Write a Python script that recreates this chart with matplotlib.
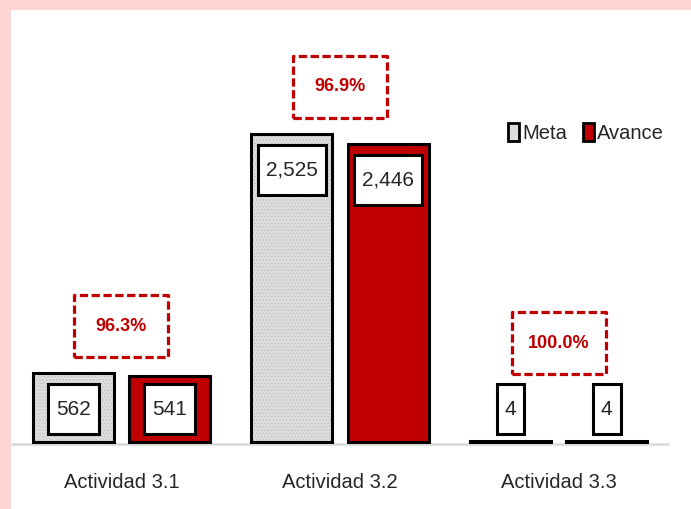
import matplotlib
matplotlib.use('Agg')
import matplotlib.pyplot as plt
from matplotlib.patches import Rectangle, Patch
import numpy as np

categories = ['Actividad 3.1', 'Actividad 3.2', 'Actividad 3.3']
meta = [562, 2525, 4]
avance = [541, 2446, 4]
series_names = ['Meta', 'Avance']

# y positions (data units) of the percentage boxes
pct_y = [950, 2915, 810]

plt.rcParams['font.family'] = ['Liberation Sans', 'DejaVu Sans']
plt.rcParams['hatch.linewidth'] = 0.8

W, H = 691, 509
fig = plt.figure(figsize=(W / 100, H / 100), dpi=100)
fig.patch.set_facecolor('#FFD6D6')
fig.add_artist(Rectangle((11 / W, 0), 1 - 11 / W, 1 - 10 / H, transform=fig.transFigure,
                         facecolor='white', edgecolor='none', zorder=0))

ax = fig.add_axes([12 / W, 65 / H, 656 / W, 434 / H])
ax.set_facecolor('none')
ax.set_xlim(-0.5, 2.5)
ax.set_ylim(-20, 3548)

x = np.arange(len(categories))
bw, off = 0.37, 0.22
RED = '#C00000'
GRAY = '#DEDEDE'
TXT = '#262626'

ax.bar(x - off, meta, bw, color=GRAY, hatch='.....', edgecolor='#C4C4C4', linewidth=0, zorder=2)
ax.bar(x - off, meta, bw, facecolor='none', edgecolor='black', linewidth=2.2, zorder=3)
ax.bar(x + off, avance, bw, color=RED, edgecolor='black', linewidth=2.2, zorder=3)

for s in ['top', 'right', 'left']:
    ax.spines[s].set_visible(False)
ax.spines['bottom'].set_color('#D9D9D9')
ax.spines['bottom'].set_linewidth(1.8)
ax.spines['bottom'].set_zorder(1)
ax.set_yticks([])
ax.set_xticks(x, categories)
ax.tick_params(axis='x', length=0, pad=21, labelsize=14.5, labelcolor=TXT)

renderer = fig.canvas.get_renderer()
inv = ax.transData.inverted()


def px_rect(cx, cy, wpx, hpx, **kw):
    dx, dy = ax.transData.transform((cx, cy))
    (x0, y0) = inv.transform((dx - wpx / 2, dy - hpx / 2))
    (x1, y1) = inv.transform((dx + wpx / 2, dy + hpx / 2))
    r = Rectangle((x0, y0), x1 - x0, y1 - y0, **kw)
    ax.add_patch(r)
    return r


# value labels
for xs, vals in [(x - off, meta), (x + off, avance)]:
    for xp, v in zip(xs, vals):
        yt = max(v - 296, 265)
        t = ax.text(xp, yt, f'{v:,}', ha='center', va='center', fontsize=15,
                    color=TXT, zorder=6)
        bb = t.get_window_extent(renderer)
        px_rect(xp, yt, bb.width + 16, 50, facecolor='white', edgecolor='black',
                linewidth=2.2, zorder=5)

# percentage boxes
for xp, m, a, yp in zip(x, meta, avance, pct_y):
    ax.text(xp, yp, f'{a / m * 100:.1f}%', ha='center', va='center', fontsize=13,
            fontweight='bold', color=RED, zorder=6)
    px_rect(xp, yp, 94, 62, facecolor='white', edgecolor=RED, linewidth=2.3,
            linestyle=(0, (2.6, 1.1)), joinstyle='round', zorder=5)

handles = [Patch(facecolor=GRAY, edgecolor='black', linewidth=2),
           Patch(facecolor=RED, edgecolor='black', linewidth=2)]
leg = fig.legend(handles, series_names, loc='center', bbox_to_anchor=(586 / W, 1 - 133 / H),
                 ncol=2, frameon=False, fontsize=14.5, handlelength=0.55, handleheight=1.0,
                 handletextpad=0.15, columnspacing=0.8, borderpad=0, borderaxespad=0)
for t in leg.get_texts():
    t.set_color(TXT)

fig.savefig('out.png', dpi=100, facecolor=fig.get_facecolor())
